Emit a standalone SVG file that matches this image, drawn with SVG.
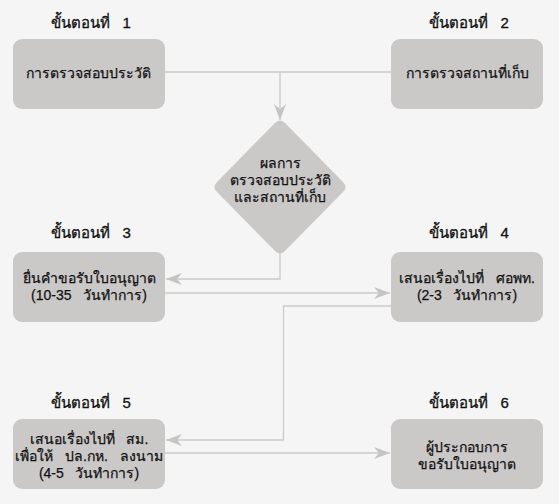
<svg xmlns="http://www.w3.org/2000/svg" width="559" height="504" viewBox="0 0 559 504">
<style>
.bg{fill:#f5f5f5}
.box{fill:#cbc8c8}
.lbl{font-family:"Liberation Sans","DejaVu Sans",sans-serif;font-size:15px;fill:#111;stroke:#111;stroke-width:0.3;text-anchor:middle;white-space:pre}
.txt{font-family:"Liberation Sans","DejaVu Sans",sans-serif;font-size:14px;fill:#111;stroke:#111;stroke-width:0.25;text-anchor:middle;white-space:pre}
.con{fill:none;stroke:#cacaca;stroke-width:1.3}
</style>
<defs>
<marker id="arr" markerUnits="userSpaceOnUse" markerWidth="20" markerHeight="14" refX="17" refY="7" orient="auto" viewBox="0 0 20 14">
<path d="M17,7 L1,1 L6,7 L1,13 Z" fill="#c4c4c4"/>
</marker>
</defs>
<rect class="bg" x="0" y="0" width="559" height="504"/>
<g id="connectors">
<path class="con" d="M165,72 H280 M391,72 H280 V120" marker-end="url(#arr)"/>
<path class="con" d="M280,253 V279 H166" marker-end="url(#arr)"/>
<path class="con" d="M165,293 H390" marker-end="url(#arr)"/>
<path class="con" d="M391,306 H283.5 V440 H166" marker-end="url(#arr)"/>
<path class="con" d="M165,453 H390" marker-end="url(#arr)"/>
</g>
<g id="step1">
<text class="lbl" x="91" y="28" xml:space="preserve">ขั้นตอนที่   1</text>
<rect class="box" x="13" y="39" width="152" height="70" rx="9"/>
<text class="txt" x="88" y="78">การตรวจสอบประวัติ</text>
</g>
<g id="step2">
<text class="lbl" x="469" y="28" xml:space="preserve">ขั้นตอนที่   2</text>
<rect class="box" x="391" y="39" width="152" height="70" rx="9"/>
<text class="txt" x="467" y="78">การตรวจสถานที่เก็บ</text>
</g>
<g id="decision">
<path class="box" d="M275,123 Q280,118 285,123 L343,182 Q348,187 343,192 L285,251 Q280,256 275,251 L217,192 Q212,187 217,182 Z"/>
<text class="txt" x="280" y="168">ผลการ</text>
<text class="txt" x="280" y="185">ตรวจสอบประวัติ</text>
<text class="txt" x="280" y="202">และสถานที่เก็บ</text>
</g>
<g id="step3">
<text class="lbl" x="91" y="238" xml:space="preserve">ขั้นตอนที่   3</text>
<rect class="box" x="13" y="252" width="152" height="70" rx="9"/>
<text class="txt" x="89" y="283">ยื่นคำขอรับใบอนุญาต</text>
<text class="txt" x="89" y="300" xml:space="preserve">(10-35   วันทำการ)</text>
</g>
<g id="step4">
<text class="lbl" x="469" y="238" xml:space="preserve">ขั้นตอนที่   4</text>
<rect class="box" x="391" y="252" width="152" height="70" rx="9"/>
<text class="txt" x="467" y="283" xml:space="preserve">เสนอเรื่องไปที่   ศอพท.</text>
<text class="txt" x="467" y="300" xml:space="preserve">(2-3   วันทำการ)</text>
</g>
<g id="step5">
<text class="lbl" x="91" y="408" xml:space="preserve">ขั้นตอนที่   5</text>
<rect class="box" x="13" y="419" width="152" height="70" rx="9"/>
<text class="txt" x="89" y="444" xml:space="preserve">เสนอเรื่องไปที่   สม.</text>
<text class="txt" x="89" y="461" xml:space="preserve">เพื่อให้   ปล.กห.   ลงนาม</text>
<text class="txt" x="89" y="478" xml:space="preserve">(4-5   วันทำการ)</text>
</g>
<g id="step6">
<text class="lbl" x="469" y="408" xml:space="preserve">ขั้นตอนที่   6</text>
<rect class="box" x="391" y="419" width="152" height="70" rx="9"/>
<text class="txt" x="467" y="452">ผู้ประกอบการ</text>
<text class="txt" x="467" y="469">ขอรับใบอนุญาต</text>
</g>
</svg>
